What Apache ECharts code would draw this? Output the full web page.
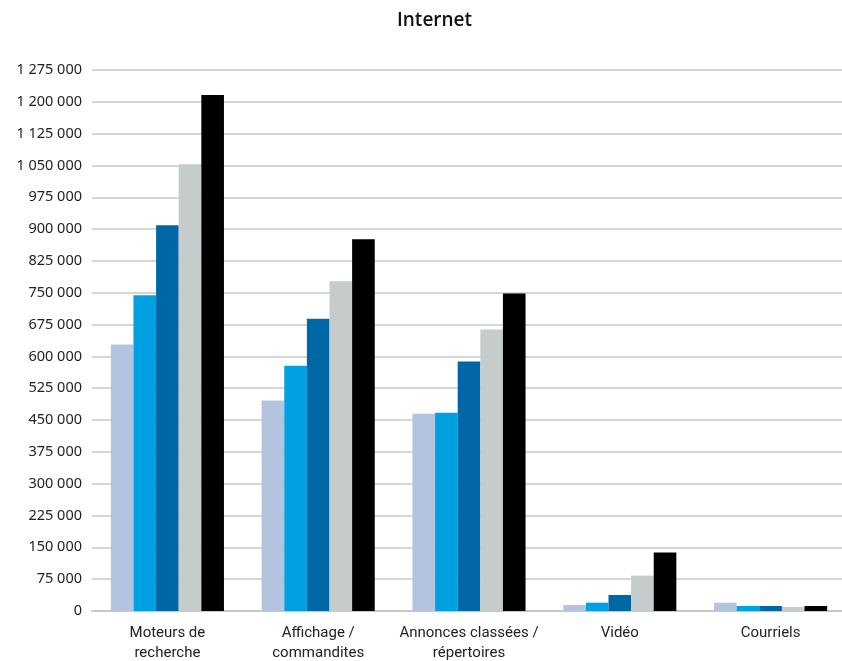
<!DOCTYPE html>
<html>
<head>
<meta charset="utf-8">
<script src="https://cdn.jsdelivr.net/npm/echarts@6/dist/echarts.min.js"></script>
<style>
  html, body { margin: 0; padding: 0; background: #fff; }
  #chart { width: 842px; height: 661px; }
</style>
</head>
<body>
<div id="chart"></div>
<script>
// Internet advertising revenue by category (five periods per category)
const categories = ['Moteurs de\nrecherche', 'Affichage /\ncommandites', 'Annonces classées /\nrépertoires', 'Vidéo', 'Courriels'];
const period1 = [628000, 496000, 465000, 14000, 19600];
const period2 = [744000, 578000, 467500, 19600, 11800];
const period3 = [909000, 689000, 588000, 37800, 11800];
const period4 = [1053000, 777000, 663500, 83400, 9400];
const period5 = [1216000, 876000, 748500, 137700, 11800];

const seriesData = [period1, period2, period3, period4, period5];
const colors = ['#b3c3e0', '#00a1e1', '#0067a7', '#c6cbcb', '#000000'];

const fmt = v => String(v).replace(/\B(?=(\d{3})+(?!\d))/g, ' ');

const chart = echarts.init(document.getElementById('chart'));
chart.setOption({
  animation: false,
  backgroundColor: '#ffffff',
  title: {
    text: 'Internet',
    left: 392,
    top: 6,
    textStyle: { fontFamily: 'Open Sans', fontSize: 19, fontWeight: 600, color: '#111' }
  },
  grid: {
    left: 92, top: 70, width: 754, height: 541,
    containLabel: false,
    outerBoundsMode: 'none'
  },
  xAxis: {
    type: 'category',
    data: categories,
    axisTick: { show: false },
    axisLine: { show: true, lineStyle: { color: '#c8c8c8', width: 2 } },
    axisLabel: {
      interval: 0,
      margin: 12,
      fontFamily: 'Roboto',
      fontSize: 15,
      lineHeight: 20,
      color: '#222'
    }
  },
  yAxis: {
    type: 'value',
    min: 0,
    max: 1275000,
    interval: 75000,
    axisLine: { show: false },
    axisTick: { show: false },
    splitLine: { lineStyle: { color: '#c8c8c8', width: 1.5 } },
    axisLabel: {
      margin: 10,
      fontFamily: 'Noto Sans',
      fontSize: 14.5,
      color: '#222',
      formatter: v => fmt(v)
    }
  },
  series: seriesData.map((d, i) => ({
    type: 'bar',
    data: d,
    barGap: '0%',
    barCategoryGap: '25%',
    itemStyle: { color: colors[i] }
  }))
});
</script>
</body>
</html>
